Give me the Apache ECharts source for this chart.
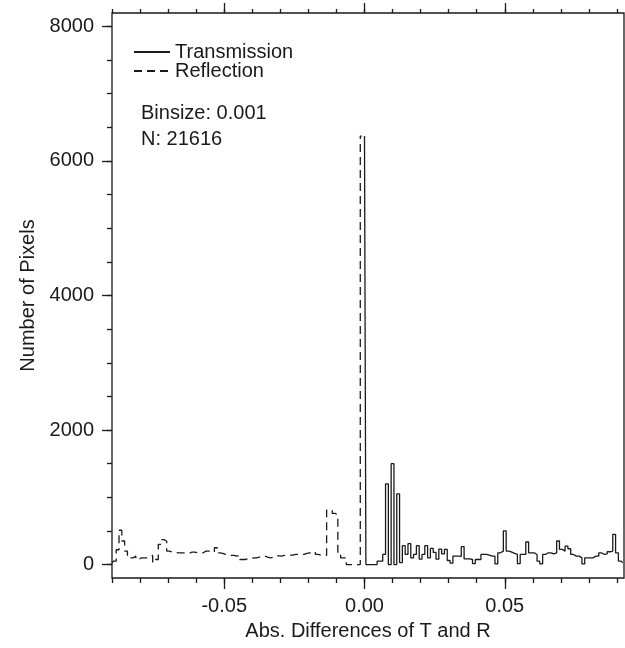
<!DOCTYPE html>
<html>
<head>
<meta charset="utf-8">
<title>Abs. Differences of T and R</title>
<script src="https://cdn.jsdelivr.net/npm/echarts@6/dist/echarts.min.js"></script>
<style>
html, body { margin: 0; padding: 0; background: #fff; }
#chart { width: 625px; height: 648px; }
</style>
</head>
<body>
<div id="chart"></div>
<script>
// histogram bins, bin width 0.001, value = bin centre
var binSize = 0.001;
var reflStart = -0.090;
var reflCounts = [
  20, 50, 220, 510, 350, 200, 100, 100, 125, 75,
  100, 100, 100, 125, 135, 35, 75, 300, 370, 350,
  200, 185, 185, 175, 175, 175, 175, 165, 185, 185,
  175, 175, 175, 200, 200, 200, 185, 250, 175, 165,
  150, 150, 135, 135, 125, 135, 75, 75, 85, 85,
  100, 100, 110, 125, 125, 110, 100, 110, 135, 130,
  125, 135, 140, 140, 140, 150, 150, 150, 150, 165,
  175, 175, 190, 150, 140, 135, 135, 810, 810, 760,
  740, 150, 100, 100, 0, 0, 0, 0, 0, 6370
];
var transStart = 0.000;
var transCounts = [
  6370, 0, 0, 0, 0, 50, 50, 150, 1200, 0,
  1500, 0, 1050, 30, 280, 150, 310, 100, 150, 280,
  80, 150, 280, 100, 240, 180, 80, 230, 160, 225,
  60, 20, 125, 125, 120, 265, 85, 85, 75, 15,
  75, 75, 150, 150, 140, 125, 125, 10, 175, 200,
  500, 200, 185, 165, 150, 15, 150, 150, 335, 175,
  175, 150, 50, 10, 150, 175, 175, 160, 175, 350,
  225, 200, 275, 235, 150, 125, 125, 100, 10, 100,
  100, 100, 125, 125, 175, 150, 160, 190, 200, 450,
  175, 50, 25
];
var xMajorTicks = [-0.05, 0.00, 0.05];
var xMinorTicks = [-0.09, -0.08, -0.07, -0.06, -0.05, -0.04, -0.03, -0.02, -0.01, 0.00,
                   0.01, 0.02, 0.03, 0.04, 0.05, 0.06, 0.07, 0.08, 0.09];
var yMajorTicks = [0, 2000, 4000, 6000, 8000];
var yMinorTicks = [0, 500, 1000, 1500, 2000, 2500, 3000, 3500, 4000, 4500, 5000, 5500,
                   6000, 6500, 7000, 7500, 8000];

var ink = '#1a1a1a';
var font = 'Liberation Sans, Arial, sans-serif';

function toPairs(start, counts) {
  var out = [];
  for (var i = 0; i < counts.length; i++) {
    out.push([start + i * binSize, counts[i]]);
  }
  return out;
}

function xAxisCfg(pos, ticks, len, withLabels) {
  return {
    type: 'value', position: pos, min: -0.09, max: 0.0925,
    axisLine: { show: false, onZero: false },
    splitLine: { show: false },
    axisTick: { show: true, customValues: ticks, length: len, lineStyle: { color: ink, width: 1.3 } },
    axisLabel: withLabels ? {
      show: true, customValues: ticks, margin: 18, color: ink, fontSize: 20, fontFamily: font,
      formatter: function (v) { return v.toFixed(2); }
    } : { show: false }
  };
}

function yAxisCfg(ticks, len, withLabels) {
  return {
    type: 'value', position: 'left', min: -200, max: 8200,
    axisLine: { show: false, onZero: false },
    splitLine: { show: false },
    axisTick: { show: true, customValues: ticks, length: len, lineStyle: { color: ink, width: 1.3 } },
    axisLabel: withLabels ? {
      show: true, customValues: ticks, margin: 18, color: ink, fontSize: 20, fontFamily: font,
      formatter: function (v) { return String(v); }
    } : { show: false }
  };
}

var chart = echarts.init(document.getElementById('chart'));

var xBottom = xAxisCfg('bottom', xMajorTicks, 11, true);
xBottom.name = 'Abs. Differences of T and R';
xBottom.nameLocation = 'middle';
xBottom.nameGap = 43;
xBottom.nameTextStyle = { color: ink, fontSize: 20, fontFamily: font };

var yLeft = yAxisCfg(yMajorTicks, 10, true);
yLeft.name = 'Number of Pixels';
yLeft.nameLocation = 'middle';
yLeft.nameGap = 68;
yLeft.nameTextStyle = { color: ink, fontSize: 20, fontFamily: font };

var option = {
  animation: false,
  backgroundColor: '#fff',
  grid: {
    left: 112, right: 1, top: 13, bottom: 70,
    show: true, borderColor: ink, borderWidth: 1.3
  },
  legend: {
    orient: 'vertical', left: 128, top: 37,
    itemWidth: 36, itemHeight: 14, itemGap: -1,
    itemStyle: { color: 'transparent', borderWidth: 0 },
    textStyle: { color: ink, fontSize: 20, fontFamily: font, padding: [0, 0, 0, 0] },
    data: ['Transmission', 'Reflection']
  },
  graphic: [
    { type: 'text', left: 141, top: 103, style: { text: 'Binsize: 0.001', fill: ink, fontSize: 20, fontFamily: font } },
    { type: 'text', left: 141, top: 129, style: { text: 'N: 21616', fill: ink, fontSize: 20, fontFamily: font } }
  ],
  xAxis: [
    xBottom,
    xAxisCfg('bottom', xMinorTicks, 5, false),
    xAxisCfg('top', xMajorTicks, 10, false),
    xAxisCfg('top', xMinorTicks, 4, false)
  ],
  yAxis: [
    yLeft,
    yAxisCfg(yMinorTicks, 5, false)
  ],
  series: [
    {
      name: 'Transmission', type: 'line', step: 'middle', symbol: 'none',
      xAxisIndex: 0, yAxisIndex: 0,
      lineStyle: { color: ink, width: 1.3, type: 'solid' },
      itemStyle: { color: ink },
      data: toPairs(transStart, transCounts)
    },
    {
      name: 'Reflection', type: 'line', step: 'middle', symbol: 'none',
      xAxisIndex: 0, yAxisIndex: 0,
      lineStyle: { color: ink, width: 1.3, type: [8, 5] },
      itemStyle: { color: ink },
      data: toPairs(reflStart, reflCounts)
    }
  ]
};

chart.setOption(option);
</script>
</body>
</html>
